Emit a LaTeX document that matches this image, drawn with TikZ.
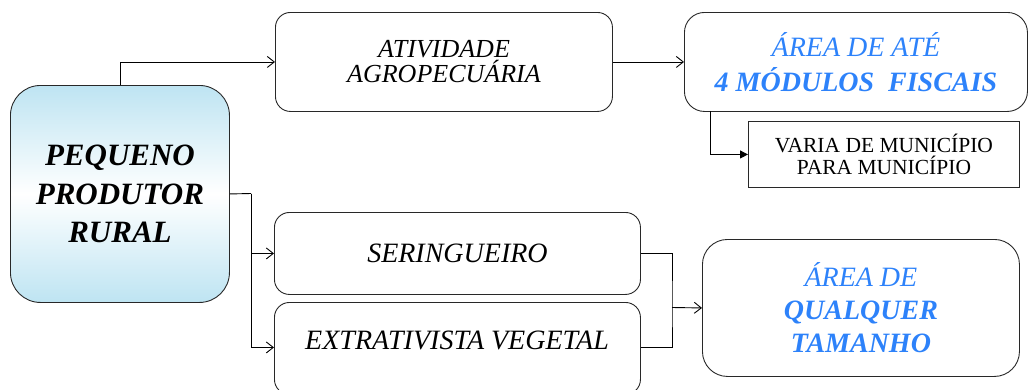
\documentclass[tikz,border=0pt]{standalone}
\usepackage{fontspec}
\IfFontExistsTF{LiberationSerif-Regular.ttf}
  {\setmainfont{LiberationSerif}[Extension=.ttf,UprightFont=*-Regular,BoldFont=*-Bold,ItalicFont=*-Italic,BoldItalicFont=*-BoldItalic]}
  {\setmainfont{Liberation Serif}}
\usetikzlibrary{arrows.meta}
\definecolor{bluetxt}{RGB}{45,130,250}
\definecolor{mainblue}{RGB}{190,228,242}
\definecolor{edge}{RGB}{40,40,40}
\tikzset{
  box/.style={draw=edge, line width=0.9pt, anchor=north west, inner sep=0pt, align=center},
  arr/.style={draw=black, line width=0.9pt, -{Straight Barb[length=7pt,width=11pt,line width=0.9pt]}},
  arrf/.style={draw=black, line width=0.9pt, -{Triangle[length=8pt,width=8pt]}},
  ln/.style={draw=black, line width=0.9pt},
}
\begin{document}
\begin{tikzpicture}[x=1pt,y=-1pt]
\useasboundingbox (0,0) rectangle (1029,389);
\begin{scope}
\clip (0,0) rectangle (1029,389);
% main
\node[box, rounded corners=30pt, minimum width=219pt, minimum height=217pt,
  top color=mainblue, bottom color=mainblue, middle color=white,
  font=\fontsize{31}{38.5}\selectfont\bfseries\itshape] (main) at (10,85)
  {PEQUENO\\PRODUTOR\\RURAL};
% ativ
\node[box, rounded corners=15pt, minimum width=337pt, minimum height=99pt,
  font=\fontsize{26}{25}\selectfont\itshape] (ativ) at (275,12)
  {ATIVIDADE\\AGROPECUÁRIA};
% area ate
\node[box, rounded corners=20pt, minimum width=343pt, minimum height=99pt,
  text=bluetxt, font=\fontsize{28}{35}\selectfont\itshape] (area) at (684,12)
  {ÁREA DE ATÉ\\\textbf{4 MÓDULOS\ \ FISCAIS}};
% varia
\node[box, minimum width=271pt, minimum height=66pt,
  font=\fontsize{21.5}{22}\selectfont] (varia) at (748,121)
  {VARIA DE MUNICÍPIO\\PARA MUNICÍPIO};
% seringueiro
\node[box, rounded corners=15pt, minimum width=366pt, minimum height=82pt,
  font=\fontsize{28}{33}\selectfont\itshape] (ser) at (274,212)
  {SERINGUEIRO};
% extrativista
\node[box, rounded corners=15pt, minimum width=366pt, minimum height=92pt] (ext) at (274,302) {};
\node[font=\fontsize{28}{33}\selectfont\itshape, inner sep=0pt] (extlbl) at (457,340)
  {EXTRATIVISTA VEGETAL};
% qualquer
\node[box, rounded corners=25pt, minimum width=317pt, minimum height=137pt,
  text=bluetxt, font=\fontsize{28}{33}\selectfont\itshape] (qual) at (702,239)
  {ÁREA DE\\\textbf{QUALQUER}\\\textbf{TAMANHO}};
% connectors
\draw[arr] (main.north) |- (ativ.west);
\draw[arr] (ativ.east) -- (area.west);
\coordinate (a1) at (710,111);
\draw[arrf] (a1) |- (varia.west);
\coordinate (j1) at (251,193.5);
\draw[ln] (main.east) -- (j1);
\draw[arr] (j1) |- (ser.west);
\draw[arr] (j1) |- ([yshift=1pt]ext.west);
\coordinate (j2) at (672,307.5);
\draw[ln] (ser.east) -| (j2) |- ([yshift=1pt]ext.east);
\draw[arr] (j2) -- (qual.west);
\end{scope}
\end{tikzpicture}
\end{document}
